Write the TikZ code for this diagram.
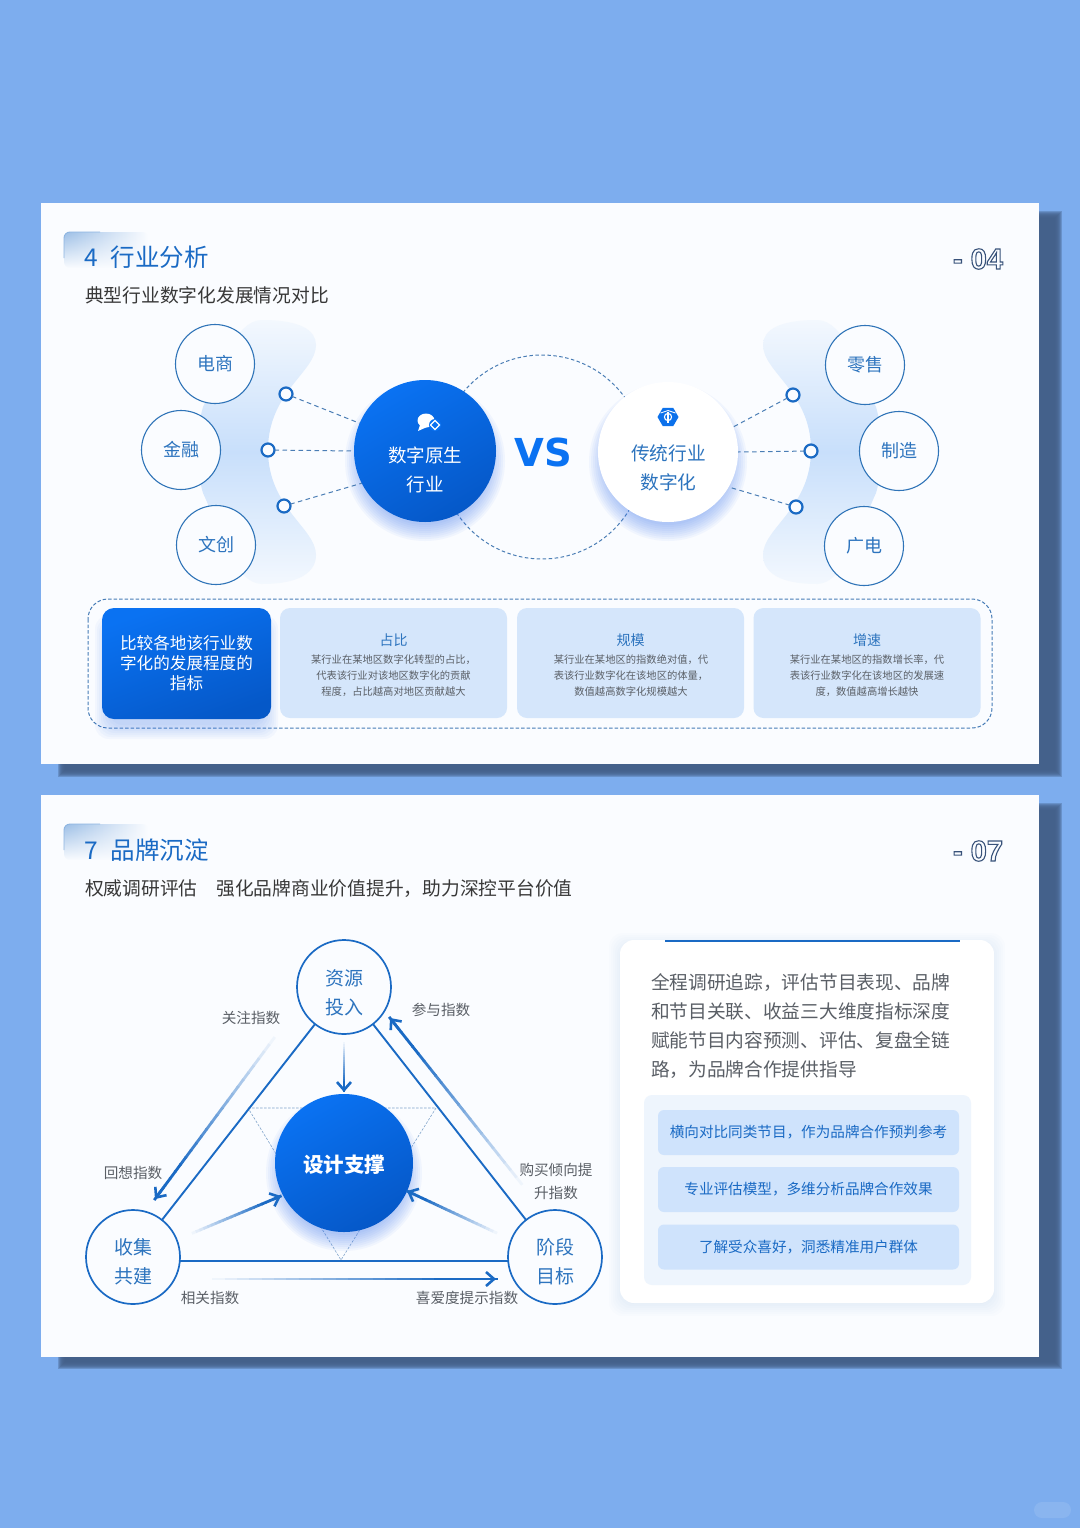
\documentclass[tikz,border=0pt]{standalone}
\usepackage{fontspec}
\setmainfont{Noto Sans CJK SC}
\newfontfamily\latinbold[BoldFont={Liberation Sans Bold}]{Liberation Sans}
\newfontfamily\vsfont{DejaVu Sans Bold}
\usepackage{xcolor}
\usetikzlibrary{calc,arrows.meta,shapes.geometric,fadings}

\definecolor{pagebg}{HTML}{7DADEE}
\definecolor{panelbg}{HTML}{FAFCFF}
\definecolor{shadowdark}{HTML}{44608A}
\definecolor{lineblue}{HTML}{1A6AC4}
\definecolor{ringblue}{HTML}{2F74B8}
\definecolor{dashblue}{HTML}{4A7DB5}
\definecolor{labelblue}{HTML}{2D74BE}
\definecolor{paleblue}{HTML}{D5E6FB}
\definecolor{barblue}{HTML}{CFE3FC}
\definecolor{bandmid}{HTML}{C8DFFB}
\definecolor{bandend}{HTML}{F3F8FE}
\definecolor{glowblue}{HTML}{3C78F5}
\definecolor{deepblue}{HTML}{0558C8}
\definecolor{brightblue}{HTML}{0A72F2}
\definecolor{greytext}{HTML}{5A5F66}

\tikzset{
	every node/.style={inner sep=0pt,outer sep=0pt},
	ring/.style={circle,draw=ringblue,line width=1.1pt,fill=panelbg,minimum size=79pt,text=labelblue,font=\fontsize{18}{29}\selectfont,align=center},
	ringbig/.style={ring,draw=lineblue,line width=1.7pt,minimum size=94pt},
	ringtext/.style={text=labelblue,font=\fontsize{19}{29}\selectfont,align=center},
	dotring/.style={circle,draw=lineblue,line width=2.2pt,fill=panelbg,minimum size=13pt},
	bigblue/.style={circle,minimum size=142pt,left color=brightblue,right color=deepblue,shading angle=30},
	bigwhite/.style={circle,minimum size=140pt,fill=white},
	dashlink/.style={draw=dashblue,line width=1pt,dash pattern=on 4.5pt off 3.5pt},
	edge/.style={draw=lineblue,line width=1.9pt},
	thintri/.style={draw=dashblue!70,line width=.6pt,dash pattern=on 2.5pt off 1.5pt},
	cardtext/.style={text=greytext,font=\fontsize{10.3}{16}\selectfont,align=center},
	cardhead/.style={text=labelblue,font=\fontsize{14}{16}\selectfont},
	cardbox/.style={rectangle,rounded corners=10pt,fill=paleblue,minimum width=227pt,minimum height=110pt},
	barbox/.style={rectangle,rounded corners=6pt,fill=barblue,minimum width=301pt,minimum height=45pt,text=lineblue,font=\fontsize{14.6}{16}\selectfont},
	smalllabel/.style={text=greytext,font=\fontsize{14.6}{23}\selectfont,align=center},
	titletext/.style={anchor=west,text=lineblue,font=\fontsize{24.5}{28}\selectfont},
	subtext/.style={anchor=west,text=black!78,font=\fontsize{18.75}{24}\selectfont},
	pagenum/.style={anchor=east,font=\latinbold\bfseries\fontsize{29}{30}\selectfont},
}

% soft shadow under a round node: centre, node radius
\newcommand{\glowcircle}[2]{%
	\foreach \r in {1,3,...,17}{\fill[glowblue,opacity=.05] ($(#1)+(0,10)$) circle (#2-8+\r);}
}
% hard card shadow with blurred edge
\newcommand{\panelshadow}[4]{%
	\foreach \i in {0,1,...,7}{\fill[shadowdark,opacity=.36] (#1+\i,#2+\i) rectangle (#3-\i,#4-\i);}
}
% soft glow round a rounded box
\newcommand{\softbox}[7]{%
	\foreach \i in {1,3,...,#5}{\fill[#6,opacity=#7,rounded corners=14pt] (#1-\i,#2-\i) rectangle (#3+\i,#4+\i);}
}
% arrow whose tail fades into the panel
\newcommand{\fadearrow}[2]{%
	\foreach \t in {0,...,23}{%
		\pgfmathtruncatemacro{\m}{min(100,\t*100/19)}
		\draw[draw=lineblue!\m!panelbg,line width=2.8pt] ($(#1)!\t/24!(#2)$) -- ($(#1)!{(\t+1.15)/24}!(#2)$);
	}
	\draw[lineblue,line width=2.6pt,-{Straight Barb[length=8pt,width=14pt]}] ($(#1)!.93!(#2)$) -- (#2);
}
% section tab in the corner of a slide
\newcommand{\titletab}[1]{%
	\shade[left color=lineblue!42!panelbg,right color=panelbg,path fading=south,rounded corners=6pt] (64,#1+36) -- (64,#1) -- (148,#1) -- (148,#1+36) -- cycle;
	\draw[lineblue!50,line width=.9pt,rounded corners=6pt] (64,#1+26) -- (64,#1) -- (100,#1);
}
\newcommand{\outlined}[1]{{\color{panelbg}\special{pdf:code 1 Tr 1.1 w 0.22 0.32 0.48 RG}#1\special{pdf:code 0 Tr}}}
\newcommand{\blobpath}{(262,320) .. controls (300,320) and (316,330) .. (316,345) .. controls (316,372) and (268,392) .. (268,450) .. controls (268,508) and (316,528) .. (316,555) .. controls (316,572) and (300,584) .. (262,584) .. controls (235,584) and (220,530) .. (203,493) .. controls (196,470) and (196,430) .. (203,407) .. controls (220,370) and (235,320) .. (262,320) -- cycle}

\begin{document}
\begin{tikzpicture}[x=1pt,y=-1pt]
	\useasboundingbox (0,0) rectangle (1080,1528);
	\fill[pagebg] (0,0) rectangle (1080,1528);
	\fill[white,opacity=.1,rounded corners=8pt] (1034,1502) rectangle (1071,1518); %corner mark

	% Slide 4
	\panelshadow{58}{211}{1062}{777}
	\fill[panelbg] (41,203) rectangle (1039,764);
	\titletab{232}
	\node[titletext] (title4) at (84,257) {4\hspace{13pt}行业分析};
	\node[subtext] (sub4) at (85,295) {典型行业数字化发展情况对比};
	\node[pagenum] (page4) at (1003,259) {\outlined{- 04}};

	\shade[top color=bandend,bottom color=bandend,middle color=bandmid] \blobpath; %left band
	\begin{scope}[shift={(1079,0)},xscale=-1]
		\shade[top color=bandend,bottom color=bandend,middle color=bandmid] \blobpath; %right band
	\end{scope}
	\draw[dashblue,line width=1pt,dash pattern=on 3.5pt off 2.5pt] (542,457) circle (102);

	\glowcircle{425,451}{71}
	\glowcircle{668,452}{70}
	\node[bigblue] (native) at (425,451) {};
	\node[bigwhite] (trad) at (668,452) {};
	\node[text=white,font=\fontsize{18.5}{29}\selectfont,align=center] (nativetext) at (425,469.5) {数字原生\\行业};
	\node[text=labelblue,font=\fontsize{18.7}{29}\selectfont,align=center] (tradtext) at (668.5,467.5) {传统行业\\数字化};
	\node[text=brightblue,font=\vsfont\fontsize{38.5}{40}\selectfont] (vs) at (543.5,452) {VS};

	% bubble icon
	\fill[white] (426,420.5) ellipse (8.5 and 7);
	\fill[white] (420,425) -- (418,431) -- (427,427) -- cycle;
	\fill[brightblue] (435,425) circle (6);
	\draw[white,line width=1.1pt] (435,420.5) -- (439.5,425) -- (435,429.5) -- (430.5,425) -- cycle;
	% box icon
	\node[regular polygon,regular polygon sides=6,fill=brightblue!85!lineblue,minimum size=21pt] (boxicon) at (668,417) {};
	\draw[white,line width=1.1pt] (668,417) circle (3.6);
	\draw[white,line width=1.1pt] (668,412) -- (668,423);
	\draw[white,line width=.8pt] (660.5,413) -- (668,410.5) -- (675.5,413);

	\node[ring] (elec) at (215,364) {电商};
	\node[ring] (fin) at (181,450) {金融};
	\node[ring] (cult) at (216,545) {文创};
	\node[ring] (retail) at (865,365) {零售};
	\node[ring] (mfg) at (899,451) {制造};
	\node[ring] (broad) at (864,546) {广电};

	\node[dotring] (l1) at (286,394) {};
	\node[dotring] (l2) at (268,450) {};
	\node[dotring] (l3) at (284,506) {};
	\node[dotring] (r1) at (793,395) {};
	\node[dotring] (r2) at (811,451) {};
	\node[dotring] (r3) at (796,507) {};

	\draw[dashlink] (l1) -- (native.157);
	\draw[dashlink] (l2) -- (native.180);
	\draw[dashlink] (l3) -- (native.207);
	\draw[dashlink] (r1) -- (trad.21);
	\draw[dashlink] (r2) -- (trad.0);
	\draw[dashlink] (r3) -- (trad.-30);

	\draw[draw=dashblue!90!lineblue,line width=1pt,dash pattern=on 3.5pt off 2pt,rounded corners=20pt] (88,599) rectangle (992,728);
	\softbox{110}{630}{263}{724}{15}{glowblue}{.04}
	\node[rectangle,rounded corners=12pt,left color=brightblue,right color=deepblue,shading angle=20,minimum width=169pt,minimum height=111pt,text=white,font=\fontsize{16.6}{20}\selectfont,align=center] (metric) at (186.5,663.5) {比较各地该行业数\\字化的发展程度的\\指标};
	\node[cardbox] (share) at (393.5,663) {};
	\node[cardbox] (scale) at (630.5,663) {};
	\node[cardbox] (speed) at (867,663) {};
	\node[cardhead] (sharehead) at (393.5,640) {占比};
	\node[cardhead] (scalehead) at (630.5,640) {规模};
	\node[cardhead] (speedhead) at (867,640) {增速};
	\node[cardtext] (sharetext) at (393.5,676) {某行业在某地区数字化转型的占比，\\代表该行业对该地区数字化的贡献\\程度，占比越高对地区贡献越大};
	\node[cardtext] (scaletext) at (631,676) {某行业在某地区的指数绝对值，代\\表该行业数字化在该地区的体量，\\数值越高数字化规模越大};
	\node[cardtext] (speedtext) at (867,676) {某行业在某地区的指数增长率，代\\表该行业数字化在该地区的发展速\\度，数值越高增长越快};

	% Slide 7
	\panelshadow{58}{803}{1062}{1369}
	\fill[panelbg] (41,795) rectangle (1039,1357);
	\titletab{824}
	\node[titletext] (title7) at (84,850) {7\hspace{13pt}品牌沉淀};
	\node[subtext] (sub7) at (85,888.5) {权威调研评估　强化品牌商业价值提升，助力深控平台价值};
	\node[pagenum] (page7) at (1003,851) {\outlined{- 07}};

	\coordinate (t1) at (248,1108); %dashed triangle
	\coordinate (t2) at (436,1108);
	\coordinate (t3) at (341,1260);
	\draw[thintri] (t1) -- (t2) -- (t3) -- cycle;

	\node[ringbig] (res) at (344,987) {};
	\node[ringbig] (col) at (133,1257) {};
	\node[ringbig] (stage) at (555,1257) {};
	\node[ringtext] (restext) at (344,992.5) {资源\\投入};
	\node[ringtext] (coltext) at (133,1261.5) {收集\\共建};
	\node[ringtext] (stagetext) at (555.5,1261.5) {阶段\\目标};
	\draw[edge] (res) -- (col);
	\draw[edge] (res) -- (stage);
	\draw[edge] (col.-5) -- (stage.185);

	\glowcircle{344,1163}{69}
	\node[circle,minimum size=138pt,left color=brightblue,right color=deepblue,shading angle=30] (design) at (344,1163) {};
	\node[text=white,font=\bfseries\fontsize{20.5}{24}\selectfont] (designtext) at (344,1165) {设计支撑};

	\coordinate (a1s) at (344,1040); %arrow ends
	\coordinate (a1e) at (344,1092);
	\coordinate (a2s) at (280,1030);
	\coordinate (a2e) at (155,1199);
	\coordinate (a3s) at (528,1192);
	\coordinate (a3e) at (390,1018);
	\coordinate (a4s) at (188,1235);
	\coordinate (a4e) at (281,1196);
	\coordinate (a5s) at (501,1235);
	\coordinate (a5e) at (407,1191);
	\coordinate (a6s) at (200,1279);
	\coordinate (a6e) at (496,1279);
	\fadearrow{a1s}{a1e}
	\fadearrow{a2s}{a2e}
	\fadearrow{a3s}{a3e}
	\fadearrow{a4s}{a4e}
	\fadearrow{a5s}{a5e}
	\fadearrow{a6s}{a6e}

	\node[smalllabel] (attn) at (251,1018) {关注指数};
	\node[smalllabel] (part) at (441,1010) {参与指数};
	\node[smalllabel] (recall) at (133,1172.5) {回想指数};
	\node[smalllabel] (buy) at (556,1181.5) {购买倾向提\\升指数};
	\node[smalllabel] (rel) at (210,1298) {相关指数};
	\node[smalllabel] (fav) at (467,1298) {喜爱度提示指数};

	\softbox{622}{946}{992}{1303}{13}{lineblue}{.012}
	\fill[white,rounded corners=14pt] (620,940) rectangle (994,1303);
	\draw[lineblue,line width=2.5pt] (665,941) -- (960,941);
	\node[anchor=north west,text=greytext,font=\fontsize{18.7}{29}\selectfont,align=left] (para) at (651,974) {全程调研追踪，评估节目表现、品牌\\和节目关联、收益三大维度指标深度\\赋能节目内容预测、评估、复盘全链\\路，为品牌合作提供指导};
	\fill[paleblue!40!white,rounded corners=8pt] (644,1095) rectangle (971,1285);
	\node[barbox] (bar1) at (808.5,1132.5) {横向对比同类节目，作为品牌合作预判参考};
	\node[barbox] (bar2) at (808.5,1189.5) {专业评估模型，多维分析品牌合作效果};
	\node[barbox] (bar3) at (808.5,1247) {了解受众喜好，洞悉精准用户群体};
\end{tikzpicture}
\end{document}
